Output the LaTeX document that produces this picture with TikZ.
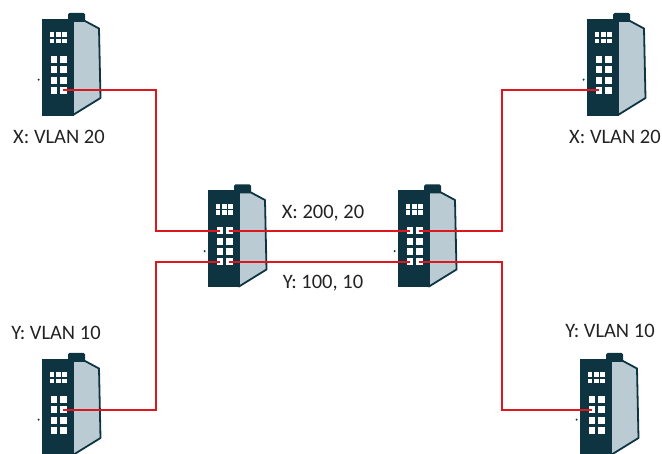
\documentclass[tikz,border=0pt]{standalone}
\usepackage{fontspec}
\setmainfont{Carlito}
\definecolor{swdark}{RGB}{14,52,66}
\definecolor{swside}{RGB}{186,203,211}
\definecolor{linkred}{RGB}{222,22,30}
\definecolor{txt}{RGB}{35,35,35}
\tikzset{
  switch/.pic={
    \fill[swdark, rounded corners=1.5pt] (26,3) -- (26,-6) -- (43,-6) -- (43,3) -- cycle;
    \filldraw[fill=swside, draw=swdark, line width=1.8pt, line join=round]
      (31,2) -- (43,2) -- (57,9.5) -- (58.5,79) -- (31,96) -- cycle;
    \fill[swdark] (0,0) rectangle (31.6,97);
    \foreach \i in {0,1,2} \foreach \j in {0,1}
      \fill[white] (7.6+\i*6.3, 13.5+\j*6.3) rectangle ++(4.6,4.6);
    \foreach \c in {0,1} \foreach \r in {0,...,3}
      \fill[white] (8.5+\c*9.5, 37+\r*10.3) rectangle ++(6.5,7);
    \fill[swdark] (-3.4,60.7) circle (1.1);
    \coordinate (-l1) at (11.75,40.5);
    \coordinate (-l2) at (11.75,50.8);
    \coordinate (-l4) at (11.75,71.4);
    \coordinate (-r1) at (21.25,40.5);
    \coordinate (-r2) at (21.25,50.8);
    \coordinate (-r4) at (21.25,71.4);
  },
  link/.style={draw=linkred, line width=2pt},
  lbl/.style={text=txt, font=\fontsize{20.5}{24}\selectfont, inner sep=0pt, anchor=center}
}
\begin{document}
\begin{tikzpicture}[x=1pt, y=-1pt]
\useasboundingbox (0,0) rectangle (662,454);
\pic (tl) at (42,19) {switch};
\pic (bl) at (42,359) {switch};
\pic (tr) at (587,19) {switch};
\pic (br) at (580,359) {switch};
\pic (ml) at (208,190.5) {switch};
\pic (mr) at (398,190.5) {switch};
\coordinate (jl) at (156,0);
\coordinate (jr) at (502,0);
\draw[link] (tl-r4) -| (jl |- ml-l1) -- (ml-l1);
\draw[link] (bl-r2) -| (jl |- ml-l4) -- (ml-l4);
\draw[link] (ml-r1) -- (mr-l1);
\draw[link] (ml-r4) -- (mr-l4);
\draw[link] (mr-r1) -| (jr |- tr-l4) -- (tr-l4);
\draw[link] (mr-r4) -| (jr |- br-l2) -- (br-l2);
\node[lbl] (t1) at (59,137) {X: VLAN 20};
\node[lbl] (t2) at (615,137) {X: VLAN 20};
\node[lbl] (t3) at (56,333) {Y: VLAN 10};
\node[lbl] (t4) at (610,331) {Y: VLAN 10};
\node[lbl] (t5) at (323,213) {X: 200, 20};
\node[lbl] (t6) at (323,283) {Y: 100, 10};
\end{tikzpicture}
\end{document}
